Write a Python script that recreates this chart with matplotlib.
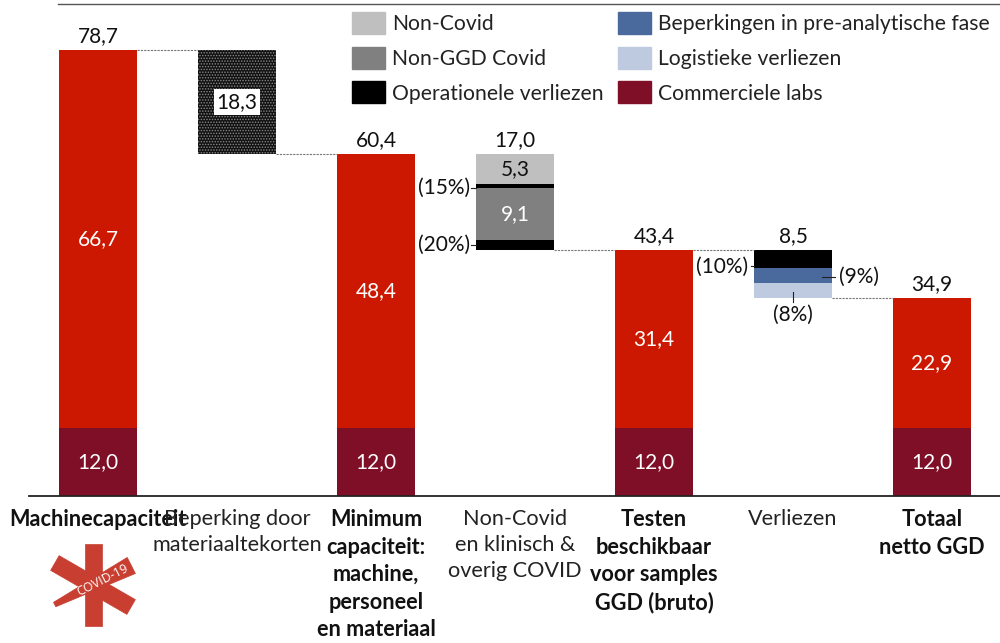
import matplotlib
matplotlib.use("Agg")
import matplotlib.pyplot as plt
from matplotlib.patches import Patch, Polygon
from matplotlib.lines import Line2D
import numpy as np

plt.rcParams['font.family'] = ['Lato', 'DejaVu Sans']

RED = '#CC1800'; DARK = '#7F0E27'; LG = '#BFBFBF'; MG = '#808080'; BLK = '#000000'; BLUE = '#4A6A9E'; LB = '#BDCADF'

categories = ['Machinecapaciteit', 'Beperking door\nmateriaaltekorten',
              'Minimum\ncapaciteit:\nmachine,\npersoneel\nen materiaal',
              'Non-Covid\nen klinisch &\noverig COVID', 'Testen\nbeschikbaar\nvoor samples\nGGD (bruto)',
              'Verliezen', 'Totaal\nnetto GGD']
bold_cats = [True, False, True, False, True, False, True]
positions = [0, 1, 2, 3, 4, 5, 6]

total_pos = [0, 2, 4, 6]
commercial = [12.0, 12.0, 12.0, 12.0]
ggd = [66.7, 48.4, 31.4, 22.9]
total_labels = ['78,7', '60,4', '43,4', '34,9']

mat_bottom = 60.4
mat_value = 18.3

noncovid_bottom = 43.4
noncovid_segments = [1.8, 9.1, 0.8, 5.3]
noncovid_colors = [BLK, MG, BLK, LG]
loss_bottom = 34.9
loss_segments = [2.6, 2.8, 3.1]
loss_colors = [LB, BLUE, BLK]

W, H = 1000, 643
BASE = 495.7
SCALE = 5.66
fig = plt.figure(figsize=(10, 6.43), dpi=100)
ax = fig.add_axes([28.5 / W, (H - BASE) / H, 973 / W, BASE / H])
ax.set_xlim(-0.5, 6.5)
ax.set_ylim(0, BASE / SCALE)
bw = 0.56
FS = 15
TXT = '#111111'

ax.bar(total_pos, commercial, bw, color=DARK)
ax.bar(total_pos, ggd, bw, bottom=commercial, color=RED)
for x, c, g, t in zip(total_pos, commercial, ggd, total_labels):
    ax.text(x, c / 2, f'{c:.1f}'.replace('.', ','), color='white', ha='center', va='center', fontsize=FS)
    ax.text(x, c + g / 2, f'{g:.1f}'.replace('.', ','), color='white', ha='center', va='center', fontsize=FS)
    ax.annotate(t, (x, c + g), xytext=(0, 3), textcoords='offset points', ha='center', va='bottom', fontsize=FS, color=TXT)

plt.rcParams['hatch.linewidth'] = 0.7
ax.bar(1, mat_value, bw, bottom=mat_bottom, facecolor='#111111', edgecolor='#8a8a8a', hatch='......', linewidth=0)
ax.text(1, mat_bottom + mat_value / 2, '18,3', ha='center', va='center', fontsize=FS, color=TXT,
        bbox=dict(facecolor='white', edgecolor='none', pad=2))

b = noncovid_bottom
for v, col in zip(noncovid_segments, noncovid_colors):
    ax.bar(3, v, bw, bottom=b, color=col)
    b += v
ax.text(3, 60.4 - 5.3 / 2, '5,3', ha='center', va='center', fontsize=FS, color=TXT)
ax.text(3, 43.4 + 1.8 + 9.1 / 2, '9,1', ha='center', va='center', fontsize=FS, color='white')
ax.annotate('17,0', (3, 60.4), xytext=(0, 3), textcoords='offset points', ha='center', va='bottom', fontsize=FS, color=TXT)

b = loss_bottom
for v, col in zip(loss_segments, loss_colors):
    ax.bar(5, v, bw, bottom=b, color=col)
    b += v
ax.annotate('8,5', (5, 43.4), xytext=(0, 3), textcoords='offset points', ha='center', va='bottom', fontsize=FS, color=TXT)

# connectors
conn = [(0, 1, 78.7), (1, 2, 60.4), (3, 4, 43.4), (4, 5, 43.4), (5, 6, 34.9)]
for a, c, y in conn:
    ax.plot([a + bw / 2, c - bw / 2], [y, y], color='#777777', lw=0.8, ls=(0, (2, 1)))

# percentage callouts
def callout(text, x0, y0, x1, y1, tx, ty, ha):
    ax.plot([x0, x1], [y0, y1], color='#222222', lw=0.8)
    ax.text(tx, ty, text, ha=ha, va='center', fontsize=FS, color=TXT)

callout('(15%)', 3 - bw / 2 - 0.04, 54.4, 3 - bw / 2, 54.4, 3 - bw / 2 - 0.045, 54.4, 'right')
callout('(20%)', 3 - bw / 2 - 0.04, 44.3, 3 - bw / 2, 44.3, 3 - bw / 2 - 0.045, 44.3, 'right')
callout('(10%)', 5 - bw / 2 - 0.02, 40.5, 5 - bw / 2, 40.5, 5 - bw / 2 - 0.04, 40.5, 'right')
callout('(9%)', 5 + 0.21, 38.7, 5 + bw / 2 + 0.02, 38.7, 5 + bw / 2 + 0.05, 38.7, 'left')
callout('(8%)', 5, 34.2, 5, 36.0, 5, 32.0, 'center')

# axis
for s in ['top', 'left', 'right']:
    ax.spines[s].set_visible(False)
ax.spines['bottom'].set_linewidth(1.3)
ax.spines['bottom'].set_color('#222222')
ax.set_yticks([])
ax.set_xticks(positions)
ax.set_xticklabels(categories, fontsize=15.6, color='#222222', linespacing=1.39)
ax.tick_params(axis='x', length=0, pad=9.5)
for lab, bd in zip(ax.get_xticklabels(), bold_cats):
    lab.set_fontweight('bold' if bd else 'normal')
    if bd:
        lab.set_color(TXT)

# thin rule along the top of the picture
fig.add_artist(Line2D([58 / W, 1.0], [(H - 3.5) / H] * 2, color='#555555', lw=1))

# legend
legend_labels = ['Non-Covid', 'Non-GGD Covid', 'Operationele verliezen',
                 'Beperkingen in pre-analytische fase', 'Logistieke verliezen', 'Commerciele labs']
legend_colors = [LG, MG, BLK, BLUE, LB, DARK]
handles = [Patch(color=c) for c in legend_colors]
leg = ax.legend(handles, legend_labels, ncol=2, frameon=False, fontsize=15.2, loc='upper left',
                bbox_to_anchor=((352 - 28.5) / 973, 1 - 12 / BASE), borderaxespad=0, borderpad=0,
                handlelength=1.56, handleheight=1.22, handletextpad=0.33, labelspacing=0.6, columnspacing=0.7)
for t in leg.get_texts():
    t.set_color('#222222')

# COVID-19 logo
lg = fig.add_axes([50 / W, (H - 630) / H, 86 / W, 90 / H])
lg.set_xlim(50, 136); lg.set_ylim(630, 540); lg.axis('off')
cx, cy = 93, 585
LOGO = '#C83E30'
def arm(angle, half, w0, w1):
    a = np.deg2rad(angle)
    u = np.array([np.cos(a), np.sin(a)]); n = np.array([-u[1], u[0]])
    c = np.array([cx, cy])
    pts = [c - half * u - w0 * n, c + half * u - w1 * n, c + half * u + w1 * n, c - half * u + w0 * n]
    lg.add_patch(Polygon(pts, closed=True, facecolor=LOGO, edgecolor=LOGO, lw=0.5, joinstyle='round'))
arm(90, 41, 8.5, 8.5)
arm(30, 44, 8.5, 8.5)
arm(-27, 43, 2.5, 9)
lg.text(cx + 10, cy - 5, 'COVID-19', rotation=27, rotation_mode='anchor', color='white', fontsize=9,
        ha='center', va='center', family='Open Sans')

fig.savefig('out.png', dpi=100)
